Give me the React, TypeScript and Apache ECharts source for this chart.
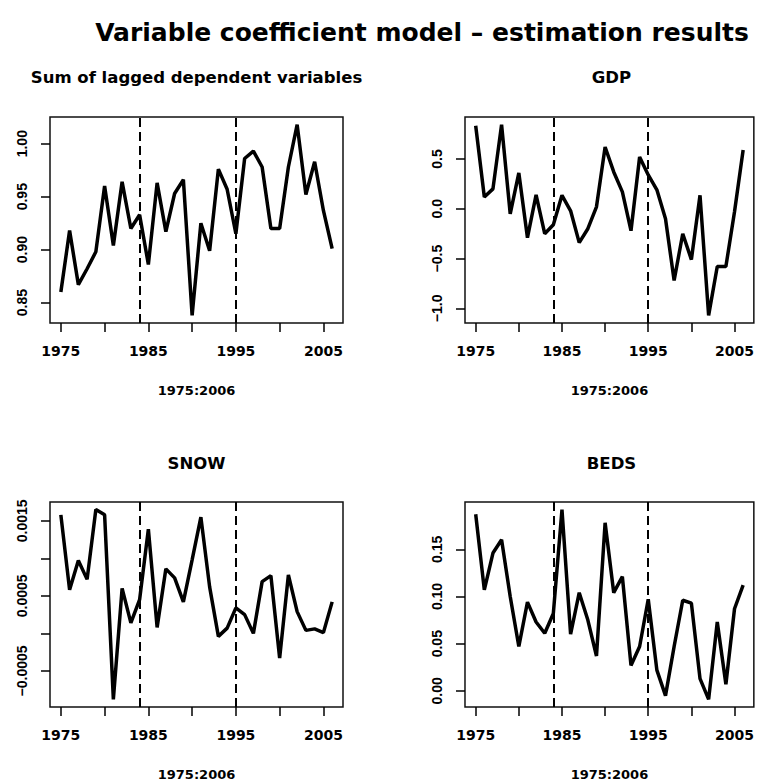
import React, { useEffect, useRef } from "react";
import * as echarts from "echarts";

const years = [
  1975, 1976, 1977, 1978, 1979, 1980, 1981, 1982, 1983, 1984, 1985, 1986, 1987, 1988, 1989, 1990,
  1991, 1992, 1993, 1994, 1995, 1996, 1997, 1998, 1999, 2000, 2001, 2002, 2003, 2004, 2005, 2006,
];

const sumLagged = [
  0.86, 0.918, 0.867, 0.882, 0.898, 0.96, 0.904, 0.964, 0.92, 0.933, 0.886, 0.963, 0.917, 0.953, 0.966, 0.838,
  0.925, 0.899, 0.976, 0.957, 0.915, 0.986, 0.993, 0.978, 0.92, 0.92, 0.978, 1.018, 0.952, 0.983, 0.937, 0.901,
];

const gdp = [
  0.834, 0.118, 0.2, 0.845, -0.05, 0.36, -0.29, 0.14, -0.25, -0.16, 0.135, -0.02, -0.34, -0.2, 0.02, 0.62,
  0.37, 0.17, -0.22, 0.52, 0.34, 0.19, -0.1, -0.72, -0.25, -0.51, 0.135, -1.07, -0.58, -0.58, -0.03, 0.59,
];

const snow = [
  0.00158, 0.00058, 0.00097, 0.00072, 0.00165, 0.00158, -0.00088, 0.0006, 0.00014, 0.00045, 0.00139, 0.00008,
  0.00086, 0.00074, 0.00042, 0.00098, 0.00155, 0.00062, -0.00004, 0.00007, 0.00034, 0.00025, 0.0, 0.00069,
  0.00077, -0.00033, 0.00078, 0.00029, 0.00004, 0.00006, 0.00001, 0.00042,
];

const beds = [
  0.187, 0.107, 0.146, 0.16, 0.1, 0.047, 0.094, 0.073, 0.061, 0.082, 0.192, 0.06, 0.104, 0.075, 0.037, 0.178,
  0.104, 0.121, 0.027, 0.047, 0.097, 0.022, -0.005, 0.047, 0.096, 0.093, 0.013, -0.009, 0.073, 0.007, 0.087, 0.112,
];

const mainTitle = "Variable coefficient model \u2013 estimation results";
const panelTitles = ["Sum of lagged dependent variables", "GDP", "SNOW", "BEDS"];
const xAxisTitle = "1975:2006";
const breakYears = [1984, 1995];
const xTicks = [1975, 1980, 1985, 1990, 1995, 2000, 2005];
const xTickLabels = [1975, 1985, 1995, 2005];

const yTicks1 = [0.85, 0.9, 0.95, 1.0];
const yTicks2 = [-1.0, -0.5, 0.0, 0.5];
const yTicks3 = [-0.0005, 0.0, 0.0005, 0.001, 0.0015];
const yLabels3 = [-0.0005, 0.0005, 0.0015];
const yTicks4 = [0.0, 0.05, 0.1, 0.15];

const panels = [
  { data: sumLagged, ticks: yTicks1, labels: yTicks1, step: 0.05, dec: 2, left: 50, top: 117, height: 206 },
  { data: gdp, ticks: yTicks2, labels: yTicks2, step: 0.5, dec: 1, left: 465, top: 117, height: 206 },
  { data: snow, ticks: yTicks3, labels: yLabels3, step: 0.0005, dec: 4, left: 50, top: 502, height: 205 },
  { data: beds, ticks: yTicks4, labels: yTicks4, step: 0.05, dec: 2, left: 465, top: 502, height: 205 },
];
const GRID_W = 293;

function extendRange(vals: number[]) {
  const lo = Math.min(...vals);
  const hi = Math.max(...vals);
  const pad = (hi - lo) * 0.04;
  return [lo - pad, hi + pad];
}

const fmt = (v: number, dec: number) => {
  const s = Number(v).toFixed(dec);
  return s.startsWith("-") ? "\u2212" + s.slice(1) : s;
};

export default function App() {
  const ref = useRef<HTMLDivElement>(null);
  useEffect(() => {
    if (!ref.current) return;
    const chart = echarts.init(ref.current, undefined, { renderer: "svg" });
    const [xMin, xMax] = extendRange(years);
    const tickFont = "DejaVu Sans";
    const grids: any[] = [];
    const xAxes: any[] = [];
    const yAxes: any[] = [];
    const series: any[] = [];
    const graphics: any[] = [
      {
        type: "text",
        x: 422,
        y: 32,
        style: {
          text: mainTitle,
          font: "bold 25px 'DejaVu Sans'",
          fill: "#000",
          textAlign: "center",
          textVerticalAlign: "middle",
        },
      },
    ];
    const tickStyle = { color: "#000", width: 1.5 };
    panels.forEach((p, i) => {
      const [yMin, yMax] = extendRange(p.data);
      grids.push({
        left: p.left,
        top: p.top,
        width: GRID_W,
        height: p.height,
        show: true,
        borderColor: "#111",
        borderWidth: 1.5,
        backgroundColor: "transparent",
      });
      xAxes.push({
        type: "value",
        gridIndex: i,
        position: "bottom",
        min: xMin,
        max: xMax,
        name: xAxisTitle,
        nameLocation: "middle",
        nameGap: 61,
        nameTextStyle: { fontFamily: tickFont, fontWeight: "bold", fontSize: 13, color: "#000" },
        axisLine: { show: false, onZero: false },
        splitLine: { show: false },
        axisTick: { show: true, customValues: xTicks, length: 9, lineStyle: tickStyle },
        axisLabel: {
          customValues: xTickLabels,
          formatter: (v: number) => String(Math.round(v)),
          margin: 21,
          fontFamily: tickFont,
          fontWeight: "bold",
          fontSize: 14,
          color: "#000",
        },
      });
      yAxes.push({
        type: "value",
        gridIndex: i,
        position: "left",
        min: yMin,
        max: yMax,
        minInterval: p.step,
        maxInterval: p.step,
        axisLine: { show: false, onZero: false },
        splitLine: { show: false },
        axisTick: { show: true, customValues: p.ticks, length: 9, lineStyle: tickStyle },
        axisLabel: {
          formatter: (v: number) =>
            p.labels.some((l) => Math.abs(l - v) < p.step * 1e-6) ? fmt(v, p.dec) : "",
          showMinLabel: false,
          showMaxLabel: false,
          rotate: 90,
          margin: 21,
          fontFamily: "Liberation Sans",
          fontWeight: "bold",
          fontSize: 14,
          color: "#000",
        },
      });
      series.push({
        type: "line",
        xAxisIndex: i,
        yAxisIndex: i,
        data: years.map((y, k) => [y, p.data[k]]),
        showSymbol: false,
        symbol: "none",
        lineStyle: { color: "#000", width: 3.5 },
        silent: true,
        markLine: {
          silent: true,
          symbol: ["none", "none"],
          label: { show: false },
          lineStyle: { color: "#000", width: 2, type: [9, 5] },
          data: breakYears.map((b) => ({ xAxis: b })),
        },
      });
      graphics.push({
        type: "text",
        x: p.left + GRID_W / 2,
        y: i < 2 ? 77 : 463,
        style: {
          text: panelTitles[i],
          font: "bold 16.5px 'DejaVu Sans'",
          fill: "#000",
          textAlign: "center",
          textVerticalAlign: "middle",
        },
      });
    });
    chart.setOption({
      animation: false,
      backgroundColor: "#fff",
      grid: grids,
      xAxis: xAxes,
      yAxis: yAxes,
      series,
      graphic: graphics,
    });
    return () => chart.dispose();
  }, []);
  return (
    <div
      ref={ref}
      style={{ position: "fixed", left: 0, top: 0, width: 757, height: 783, background: "#fff" }}
    />
  );
}
